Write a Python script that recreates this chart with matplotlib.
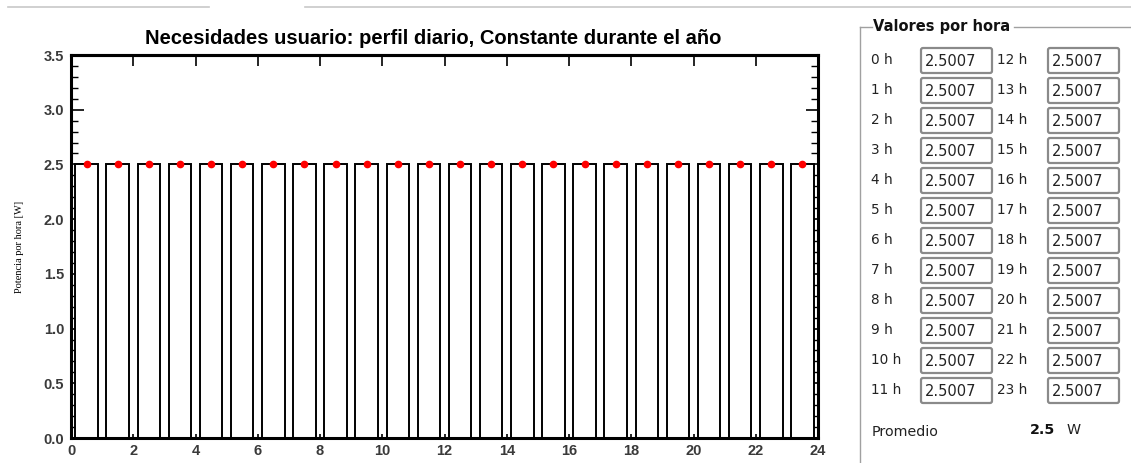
import numpy as np
import matplotlib
matplotlib.use("Agg")
import matplotlib.pyplot as plt
from matplotlib.patches import FancyBboxPatch
from matplotlib.lines import Line2D

# ---- data ----
hours = list(range(24))
values = [2.5007] * 24
title = "Necesidades usuario: perfil diario, Constante durante el año"
ylabel = "Potencia por hora [W]"
panel_title = "Valores por hora"
xticks = list(range(0, 25, 2))
yticks = [0.0, 0.5, 1.0, 1.5, 2.0, 2.5, 3.0, 3.5]
unit = "W"

W, H = 1131, 463
fig = plt.figure(figsize=(W / 100, H / 100), dpi=100)

# overlay axes in pixel coordinates
ov = fig.add_axes([0, 0, 1, 1])
ov.set_xlim(0, W)
ov.set_ylim(H, 0)
ov.axis("off")

# ---- main chart ----
L, R, T, B = 71, 818, 55, 438
ax = fig.add_axes([L / W, (H - B) / H, (R - L) / W, (B - T) / H])
x = np.array(hours) + 0.5
ax.bar(x, values, width=0.72, color="white", edgecolor="black", linewidth=1.4, zorder=2)
ax.plot(x, values, "o", color="red", markersize=4.5, zorder=3)
ax.set_xlim(0, 24)
ax.set_ylim(0, 3.5)
ax.set_xticks(xticks)
ax.set_yticks(yticks)
ax.set_yticklabels([f"{v:.1f}" for v in yticks])
ax.set_yticks(np.arange(0, 3.51, 0.1), minor=True)
for s in ax.spines.values():
    s.set_linewidth(2.2)
ax.tick_params(axis="x", which="major", direction="in", length=3, width=1.2,
               labelsize=10.5, colors="black", labelcolor="#3a3a3a", pad=4)
ax.tick_params(axis="y", which="major", direction="in", length=9, width=1.2,
               right=True, labelsize=10.5, labelcolor="#3a3a3a", pad=5)
ax.tick_params(axis="y", which="minor", direction="in", length=5, width=1.0, right=True)
for lab in ax.get_xticklabels() + ax.get_yticklabels():
    lab.set_family("Liberation Sans")
    lab.set_fontweight("bold")
sec = ax.secondary_xaxis("top")
sec.set_xticks(xticks)
sec.tick_params(direction="in", length=8, width=1.2, labeltop=False)
sec.spines["top"].set_linewidth(2.2)
ax.set_title(title, fontsize=14.5, fontweight="bold", family="Liberation Sans", pad=8, x=0.485)
ax.set_ylabel(ylabel, family="Liberation Serif", fontsize=7.5, labelpad=14)

# ---- top separator lines ----
ov.add_line(Line2D([8, 209], [7, 7], color="#c8c8c8", lw=1.2))
ov.add_line(Line2D([305, 1131], [7, 7], color="#c8c8c8", lw=1.2))

# ---- group box ----
gx, gy = 860, 27
ov.add_line(Line2D([gx, gx], [gy, H], color="#a0a0a0", lw=1.0))
ov.add_line(Line2D([gx, 872], [gy, gy], color="#a0a0a0", lw=1.0))
ov.add_line(Line2D([1014, W], [gy, gy], color="#a0a0a0", lw=1.0))
ov.text(873, gy, panel_title, fontsize=10.5, fontweight="bold", family="DejaVu Sans",
        va="center", ha="left", color="#111111")

for i, (h, v) in enumerate(zip(hours, values)):
    col = i // 12
    row = i % 12
    yc = 60 + row * 30
    lx = 871 if col == 0 else 997
    bx = 921 if col == 0 else 1048
    ov.text(lx, yc, f"{h} h", fontsize=9.8, family="DejaVu Sans", va="center", ha="left",
            color="#222222")
    ov.add_patch(FancyBboxPatch((bx, yc - 12), 71, 25,
                                boxstyle="round,pad=0,rounding_size=2",
                                facecolor="white", edgecolor="#8a8a8a", lw=1.6))
    ov.text(bx + 4, yc + 1, f"{v:.4f}", fontsize=10.5, family="DejaVu Sans", va="center",
            ha="left", color="#222222")

ov.text(872, 432, "Promedio", fontsize=10.3, family="DejaVu Sans", va="center", ha="left",
        color="#222222")
ov.text(1030, 430, f"{np.mean(values):.1f}", fontsize=10.3, fontweight="bold",
        family="DejaVu Sans", va="center", ha="left", color="#111111")
ov.text(1067, 430, unit, fontsize=10.3, family="DejaVu Sans", va="center", ha="left",
        color="#222222")

fig.savefig("out.png", dpi=100)
